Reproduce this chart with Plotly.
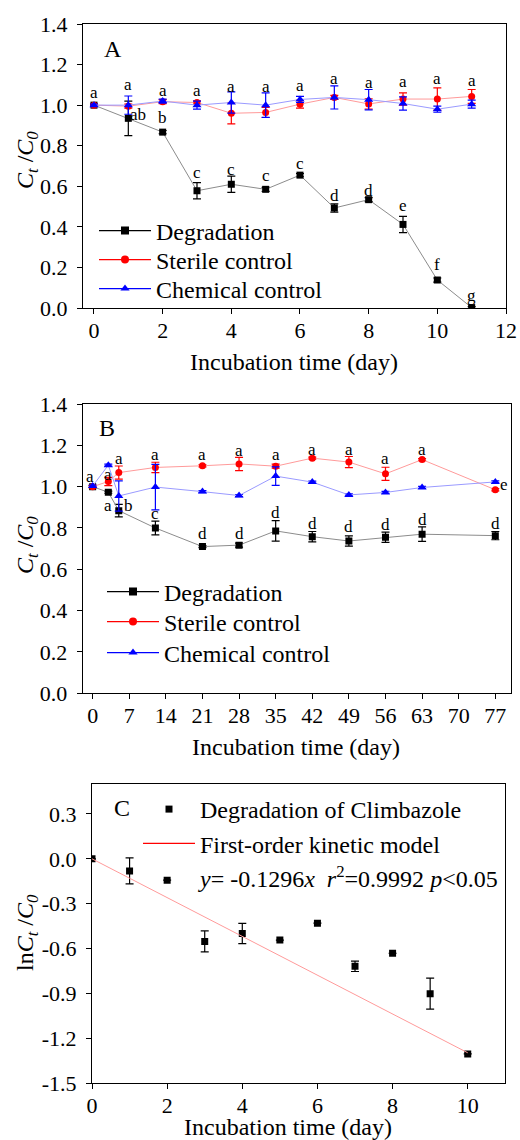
import plotly.graph_objects as go

# ---------------- data ----------------
# Panel A (days 0-11)
days_A = [0, 1, 2, 3, 4, 5, 6, 7, 8, 9, 10, 11]
deg_A = [1.00, 0.935, 0.867, 0.578, 0.61, 0.585, 0.655, 0.493, 0.534, 0.412, 0.138, 0.002]
deg_A_err = [0.005, 0.085, 0.008, 0.04, 0.04, 0.01, 0.008, 0.02, 0.01, 0.04, 0.01, 0.005]
ster_A = [1.0, 0.995, 1.017, 1.013, 0.96, 0.964, 1.005, 1.038, 1.006, 1.03, 1.03, 1.043]
ster_A_err = [0.005, 0.01, 0.01, 0.008, 0.052, 0.025, 0.02, 0.01, 0.025, 0.03, 0.055, 0.034]
chem_A = [1.0, 1.0, 1.02, 1.0, 1.013, 1.0, 1.028, 1.038, 1.027, 1.008, 0.98, 1.005]
chem_A_err = [0.005, 0.045, 0.01, 0.02, 0.052, 0.06, 0.015, 0.057, 0.05, 0.033, 0.015, 0.02]

labA_top_txt = ["a"] * 12
labA_top_x = [0, 1, 2, 3, 4, 5, 6, 7, 8, 9, 10, 11]
labA_top_y = [1.063, 1.102, 1.074, 1.071, 1.094, 1.094, 1.099, 1.129, 1.11, 1.115, 1.132, 1.119]
labA_deg_txt = ["ab", "b", "c", "c", "c", "c", "d", "d", "e", "f", "g"]
labA_deg_x = [1.29, 2, 3, 4, 5, 6, 7, 8, 9, 10, 11]
labA_deg_y = [0.956, 0.938, 0.667, 0.684, 0.652, 0.713, 0.557, 0.578, 0.504, 0.215, 0.064]

# Panel B (days 0-77)
days_B = [0, 3, 5, 12, 21, 28, 35, 42, 49, 56, 63, 77]
deg_B = [1.0, 0.973, 0.884, 0.80, 0.71, 0.717, 0.786, 0.758, 0.737, 0.755, 0.77, 0.763]
deg_B_err = [0.005, 0.005, 0.03, 0.033, 0.005, 0.01, 0.05, 0.025, 0.025, 0.025, 0.035, 0.02]
ster_B = [1.0, 1.025, 1.068, 1.093, 1.101, 1.11, 1.099, 1.138, 1.119, 1.062, 1.131, 0.985]
ster_B_err = [0.005, 0.02, 0.032, 0.025, 0.005, 0.032, 0.01, 0.005, 0.027, 0.032, 0.005, 0.005]
chem_B = [1.003, 1.104, 0.955, 0.998, 0.976, 0.957, 1.051, 1.022, 0.96, 0.972, 0.996, 1.023]
chem_B_err = [0.005, 0.005, 0.073, 0.11, 0.005, 0.005, 0.045, 0.005, 0.005, 0.005, 0.005, 0.005]
ticks_B = [0, 7, 14, 21, 28, 35, 42, 49, 56, 63, 70, 77]

labB_top_txt = ["a"] * 11 + ["e"]
labB_top_x = [-0.5, 3, 5, 12, 21, 28, 35, 42, 49, 56, 63, 78.6]
labB_top_y = [1.05, 1.057, 1.138, 1.157, 1.157, 1.175, 1.157, 1.181, 1.181, 1.135, 1.181, 1.009]
labB_deg_txt = ["a", "b", "c", "d", "d", "d", "d", "d", "d", "d", "d"]
labB_deg_x = [3, 6.8, 12, 21, 28, 35, 42, 49, 56, 63, 77]
labB_deg_y = [0.907, 0.907, 0.872, 0.771, 0.771, 0.877, 0.823, 0.807, 0.818, 0.839, 0.823]

# Panel C (kinetics)
days_C = [0, 1, 2, 3, 4, 5, 6, 7, 8, 9, 10]
ln_C = [0.0, -0.081, -0.143, -0.552, -0.499, -0.543, -0.43, -0.718, -0.631, -0.901, -1.304]
ln_C_err = [0, 0.087, 0, 0.07, 0.067, 0, 0, 0.035, 0, 0.104, 0]
k_slope = -0.1296
fit_x = [0, 10]
ticks_C = [-1.5, -1.2, -0.9, -0.6, -0.3, 0.0, 0.3]
ticks_C_txt = ["-1.5", "-1.2", "-0.9", "-0.6", "-0.3", "0.0", "0.3"]

# ---------------- styling ----------------
W, H = 520, 1140
FONT = "Times New Roman, Liberation Serif, serif"
BLACK_LINE = "#8c8c8c"
RED_LINE = "#ff9a9a"
BLUE_LINE = "#9a9aff"


def px_x(p):
    return p / W


def px_y(p):
    return 1 - p / H


fig = go.Figure()


def add_series(x, y, err, xa, ya, line_col, mk_col, symbol, size):
    fig.add_trace(go.Scatter(
        x=x, y=y, mode="lines+markers", xaxis=xa, yaxis=ya, showlegend=False,
        line=dict(color=line_col, width=1),
        marker=dict(symbol=symbol, size=size, color=mk_col),
        error_y=dict(type="data", array=err, visible=True, color=mk_col, thickness=1.2, width=4),
    ))


legend_layout = {}
TEXT_DX = 63  # distance from legend x to the start of its text


def place_legend(leg, text_start_px, row_px, anchor="middle"):
    legend_layout[leg] = dict(
        x=px_x(text_start_px - TEXT_DX), y=px_y(row_px), xanchor="left", yanchor=anchor,
        font=dict(family=FONT, size=24, color="black"), bgcolor="rgba(0,0,0,0)",
        itemwidth=52, borderwidth=0, tracegroupgap=0,
    )


def add_legend_entries(legs, xa, ya, text_start, rows):
    for leg, row, (name, col, sym) in zip(legs, rows, [("Degradation", "black", "square"),
                                                        ("Sterile control", "red", "circle"),
                                                        ("Chemical control", "blue", "triangle-up")]):
        fig.add_trace(go.Scatter(
            x=[None], y=[None], mode="lines+markers", xaxis=xa, yaxis=ya, legend=leg,
            name=name, line=dict(color=col, width=1.3),
            marker=dict(symbol=sym, size=8, color=col),
        ))
        place_legend(leg, text_start, row)


# Panel A
add_series(days_A, deg_A, deg_A_err, "x", "y", BLACK_LINE, "black", "square", 7)
add_series(days_A, ster_A, ster_A_err, "x", "y", RED_LINE, "red", "circle", 7)
add_series(days_A, chem_A, chem_A_err, "x", "y", BLUE_LINE, "blue", "triangle-up", 8)
add_legend_entries(["legend", "legend2", "legend3"], "x", "y", 157, [231, 260, 289])

# Panel B
add_series(days_B, deg_B, deg_B_err, "x2", "y2", BLACK_LINE, "black", "square", 7)
add_series(days_B, ster_B, ster_B_err, "x2", "y2", RED_LINE, "red", "circle", 7)
add_series(days_B, chem_B, chem_B_err, "x2", "y2", BLUE_LINE, "blue", "triangle-up", 8)
add_legend_entries(["legend4", "legend5", "legend6"], "x2", "y2", 165, [592, 622, 653])

# Panel C (one legend holding its three entries)
fig.add_trace(go.Scatter(
    x=days_C, y=ln_C, mode="markers", xaxis="x3", yaxis="y3", legend="legend7",
    name="Degradation of Climbazole",
    marker=dict(symbol="square", size=7, color="black"),
    error_y=dict(type="data", array=ln_C_err, visible=True, color="black", thickness=1.2, width=4),
))
fig.add_trace(go.Scatter(
    x=fit_x, y=[k_slope * v for v in fit_x], mode="lines", xaxis="x3", yaxis="y3",
    showlegend=False, line=dict(color=RED_LINE, width=1),
))
fig.add_trace(go.Scatter(
    x=[None], y=[None], mode="lines", xaxis="x3", yaxis="y3", legend="legend7",
    name="First-order kinetic model", line=dict(color="red", width=1.3),
))
fig.add_trace(go.Scatter(
    x=[None], y=[None], mode="markers", xaxis="x3", yaxis="y3", legend="legend7",
    name="<i>y</i>= -0.1296<i>x</i>&nbsp; <i>r</i><sup>2</sup>=0.9992 <i>p</i>&lt;0.05",
    marker=dict(color="rgba(0,0,0,0)", size=1),
))
place_legend("legend7", 201, 787, anchor="top")

axis_common = dict(
    showline=True, linecolor="black", linewidth=1.2, mirror=True,
    ticks="outside", ticklen=5, tickwidth=1.2, tickcolor="black",
    showgrid=False, zeroline=False, automargin=False,
    tickfont=dict(family=FONT, size=22, color="black"),
)
yaxis_extra = dict(ticklabelstandoff=5)
xaxis_extra = dict(ticklabelstandoff=-3)

ann = []


def add_letters(txts, xs, ys, xr, yr):
    for t, xv, yv in zip(txts, xs, ys):
        ann.append(dict(text=t, x=xv, y=yv, xref=xr, yref=yr, showarrow=False,
                        xanchor="center", yanchor="middle",
                        font=dict(family=FONT, size=17, color="black")))


add_letters(labA_top_txt, labA_top_x, labA_top_y, "x", "y")
add_letters(labA_deg_txt, labA_deg_x, labA_deg_y, "x", "y")
add_letters(labB_top_txt, labB_top_x, labB_top_y, "x2", "y2")
add_letters(labB_deg_txt, labB_deg_x, labB_deg_y, "x2", "y2")


def paper_text(t, xp, yp, size=24, angle=0):
    ann.append(dict(text=t, x=px_x(xp), y=px_y(yp), xref="paper", yref="paper",
                    showarrow=False, textangle=angle, xanchor="center", yanchor="middle",
                    font=dict(family=FONT, size=size, color="black")))


paper_text("A", 113, 49)
paper_text("B", 107, 428)
paper_text("C", 122, 808)
xt = "Incubation time (day)"
paper_text(xt, 294, 362)
paper_text(xt, 296, 747)
paper_text(xt, 288, 1127)
yt = "<i>C</i><sub><i>t</i></sub> /<i>C</i><sub><i>0</i></sub>"
paper_text(yt, 27, 160, angle=-90)
paper_text(yt, 27, 545, angle=-90)
paper_text("ln<i>C</i><sub><i>t</i></sub> /<i>C</i><sub><i>0</i></sub>", 27, 933, angle=-90)

fig.update_layout(
    width=W, height=H, margin=dict(l=0, r=0, t=0, b=0, pad=0, autoexpand=False),
    paper_bgcolor="white", plot_bgcolor="white",
    font=dict(family=FONT, color="black"),
    xaxis=dict(domain=[px_x(83), px_x(506)], range=[-0.32, 12], tickvals=[0, 2, 4, 6, 8, 10, 12],
               anchor="y", **axis_common, **xaxis_extra),
    yaxis=dict(domain=[px_y(308), px_y(24)], range=[0, 1.4], dtick=0.2, tickformat=".1f",
               anchor="x", **axis_common, **yaxis_extra),
    xaxis2=dict(domain=[px_x(82.7), px_x(511)], range=[-1.9, 80], tickvals=ticks_B,
                anchor="y2", **axis_common, **xaxis_extra),
    yaxis2=dict(domain=[px_y(693.3), px_y(404)], range=[0, 1.4], dtick=0.2, tickformat=".1f",
                anchor="x2", **axis_common, **yaxis_extra),
    xaxis3=dict(domain=[px_x(92), px_x(505.3)], range=[0, 11], tickvals=[0, 2, 4, 6, 8, 10],
                anchor="y3", **axis_common, **xaxis_extra),
    yaxis3=dict(domain=[px_y(1083.3), px_y(784)], range=[-1.5, 0.5], tickvals=ticks_C,
                ticktext=ticks_C_txt, anchor="x3", **axis_common, **yaxis_extra),
    annotations=ann,
    **legend_layout,
)

fig.write_html(
    "out.html",
    config={"displayModeBar": False},
    post_script="document.body.style.margin='0px';document.body.style.overflow='hidden';",
)
